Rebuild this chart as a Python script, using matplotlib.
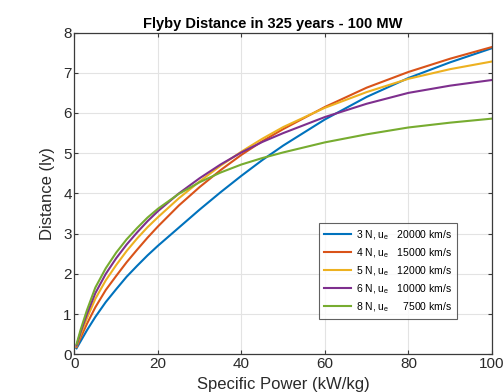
import numpy as np
import matplotlib
matplotlib.use('Agg')
import matplotlib.pyplot as plt

plt.rcParams['font.family'] = ['Liberation Sans', 'DejaVu Sans']

# specific power (kW/kg)
power = [0.5, 1.5, 3, 5, 7.5, 10, 12.5, 15, 17.5, 20, 25, 30, 35, 40, 45, 50,
         60, 70, 80, 90, 100]

# flyby distance (ly)
d_3N = [0.15, 0.33, 0.6, 0.93, 1.3, 1.62, 1.93, 2.2, 2.46, 2.7, 3.15, 3.6,
        4.03, 4.44, 4.83, 5.19, 5.84, 6.4, 6.87, 7.26, 7.61]
d_4N = [0.18, 0.42, 0.76, 1.17, 1.6, 1.95, 2.29, 2.6, 2.9, 3.18, 3.7, 4.16,
        4.58, 4.96, 5.3, 5.6, 6.15, 6.63, 7.02, 7.35, 7.64]
d_5N = [0.2, 0.5, 0.9, 1.38, 1.84, 2.22, 2.57, 2.88, 3.16, 3.41, 3.88, 4.3,
        4.69, 5.04, 5.36, 5.65, 6.13, 6.52, 6.85, 7.09, 7.28]
d_6N = [0.22, 0.56, 1.0, 1.52, 2.0, 2.39, 2.73, 3.03, 3.31, 3.56, 4.0, 4.38,
        4.72, 5.02, 5.28, 5.5, 5.9, 6.23, 6.5, 6.68, 6.82]
d_8N = [0.25, 0.62, 1.1, 1.66, 2.14, 2.53, 2.86, 3.14, 3.4, 3.62, 3.99, 4.28,
        4.52, 4.72, 4.88, 5.02, 5.27, 5.47, 5.64, 5.76, 5.86]

labels = ['3 N, u$_\\mathregular{e}$   20000 km/s',
          '4 N, u$_\\mathregular{e}$   15000 km/s',
          '5 N, u$_\\mathregular{e}$   12000 km/s',
          '6 N, u$_\\mathregular{e}$   10000 km/s',
          '8 N, u$_\\mathregular{e}$     7500 km/s']
colors = ['#0072BD', '#D95319', '#EDB120', '#7E2F8E', '#77AC30']

fig = plt.figure(figsize=(5.03, 3.92), dpi=100)
ax = fig.add_axes([0.148, 0.096, 0.83, 0.821])

for d, lab, c in zip([d_3N, d_4N, d_5N, d_6N, d_8N], labels, colors):
    ax.plot(power, d, color=c, lw=1.5, label=lab)

ax.set_xlim(0, 100)
ax.set_ylim(0, 8)
ax.set_xticks([0, 20, 40, 60, 80, 100])
ax.set_yticks(range(0, 9))
ax.grid(True, color='#e3e3e3', lw=0.8)
ax.set_axisbelow(True)
for s in ax.spines.values():
    s.set_color('#3a3a3a')
    s.set_linewidth(0.9)
ax.tick_params(direction='in', top=True, right=True, length=3, width=0.8,
               colors='#3a3a3a', labelsize=11, labelcolor='#2a2a2a', pad=2)

ax.set_xlabel('Specific Power (kW/kg)', fontsize=12, color='#2a2a2a', labelpad=4)
ax.set_ylabel('Distance (ly)', fontsize=12, color='#2a2a2a', labelpad=6)
ax.set_title('Flyby Distance in 325 years - 100 MW', fontsize=10.5,
             fontweight='bold', pad=3, x=0.475)

leg = ax.legend(loc='lower right', bbox_to_anchor=(0.916, 0.11), fontsize=7.5,
                frameon=True, fancybox=False, edgecolor='#3a3a3a',
                handlelength=2.6, handletextpad=0.4, labelspacing=0.42,
                borderpad=0.5, borderaxespad=0)
leg.get_frame().set_linewidth(0.8)

fig.savefig('out.png', dpi=100)
